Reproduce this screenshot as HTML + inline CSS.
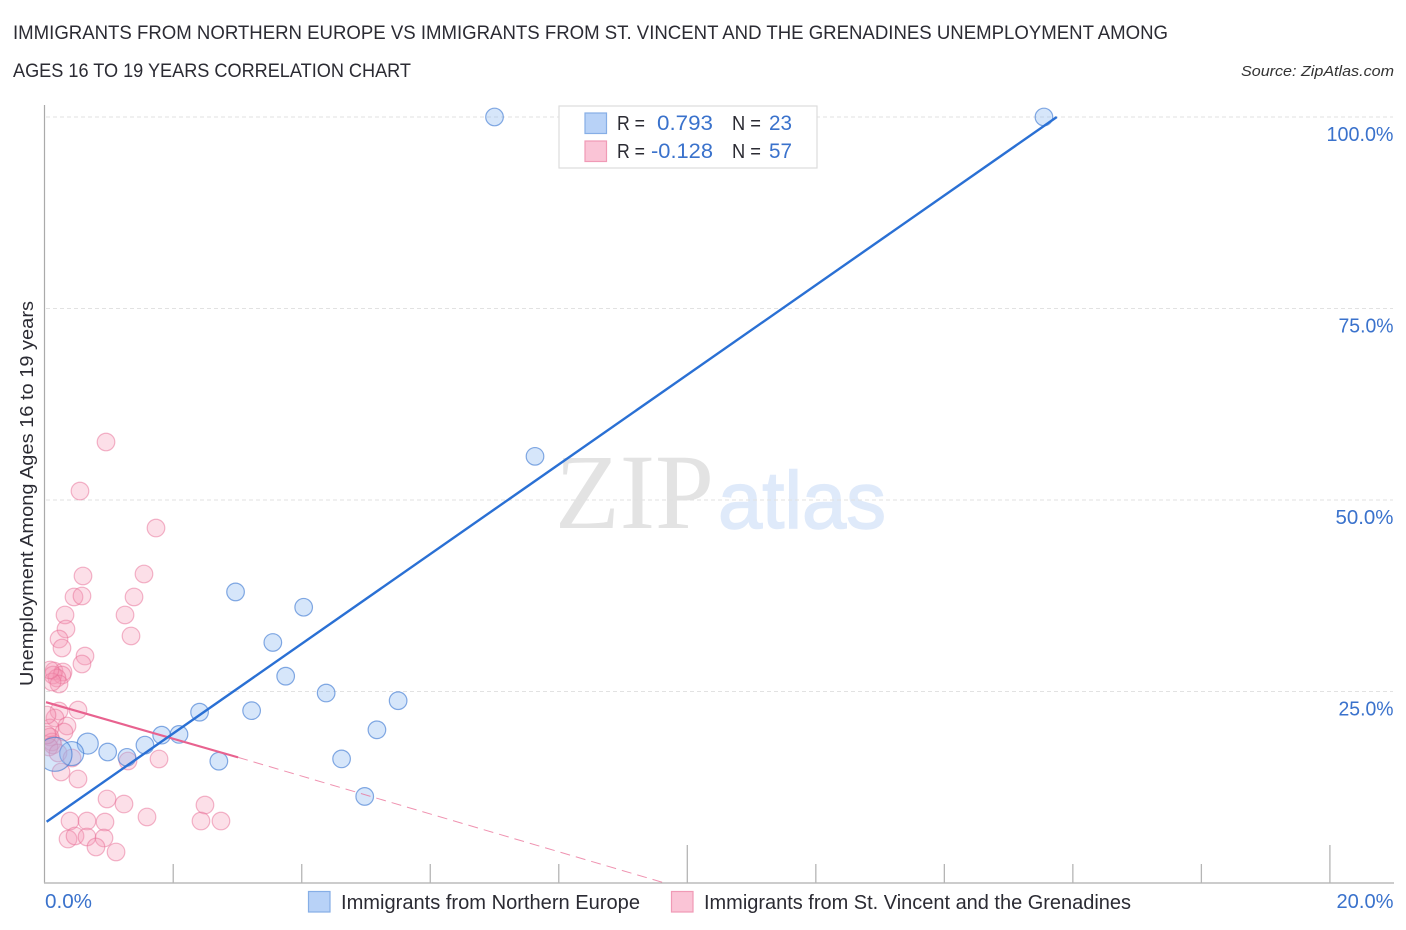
<!DOCTYPE html>
<html lang="en">
<head>
<meta charset="utf-8">
<title>Unemployment correlation chart</title>
<style>
html,body{margin:0;padding:0;background:#fff;}
svg{display:block;font-family:"Liberation Sans",sans-serif;}
</style>
</head>
<body>
<svg id="chart" xmlns="http://www.w3.org/2000/svg" width="1406" height="930" viewBox="0 0 1406 930">
  <defs><clipPath id="plot-clip"><rect x="45" y="100" width="1350" height="783"/></clipPath></defs>
  <rect width="1406" height="930" fill="#fff"/>
  <text x="13" y="39" font-size="19" fill="#2b2b33" textLength="1155" lengthAdjust="spacingAndGlyphs">IMMIGRANTS FROM NORTHERN EUROPE VS IMMIGRANTS FROM ST. VINCENT AND THE GRENADINES UNEMPLOYMENT AMONG</text>
  <text x="13" y="77" font-size="19" fill="#2b2b33" textLength="398" lengthAdjust="spacingAndGlyphs">AGES 16 TO 19 YEARS CORRELATION CHART</text>
  <text x="1394" y="76" font-size="15" font-style="italic" fill="#333" text-anchor="end" textLength="153" lengthAdjust="spacingAndGlyphs">Source: ZipAtlas.com</text>

  <g>
    <text x="555" y="528" font-family="'Liberation Serif',serif" font-size="107" fill="#e3e3e3" textLength="159" lengthAdjust="spacingAndGlyphs">ZIP</text>
    <text x="718" y="528" font-size="81" fill="#dfeafa" stroke="#dfeafa" stroke-width="1.5" textLength="168" lengthAdjust="spacingAndGlyphs">atlas</text>
  </g>

  <g id="grid"></g>
  <g id="axes">
    <line x1="44.5" y1="105" x2="44.5" y2="883" stroke="#aaa" stroke-width="1.2"/>
    <line x1="44" y1="883" x2="1394" y2="883" stroke="#bbb" stroke-width="1.5"/>
  </g>
  <g id="xticks"></g>
  <g id="ylabels"></g>
  <g id="xlabels"></g>

  <g id="pink-points" clip-path="url(#plot-clip)"></g>
  <g id="blue-points" clip-path="url(#plot-clip)"></g>
  <g id="trends"></g>

  <text transform="translate(33,686) rotate(-90)" font-size="18.5" fill="#2b2b33" textLength="385" lengthAdjust="spacingAndGlyphs">Unemployment Among Ages 16 to 19 years</text>

  <g>
    <rect x="559" y="106" width="258" height="62" fill="#fff" stroke="#ddd" stroke-width="1.2"/>
    <rect x="585" y="113" width="21.500" height="20.500" fill="#b8d2f7" stroke="#86aee6" stroke-width="1.200"/>
    <rect x="585" y="141" width="21.500" height="20.500" fill="#fac4d6" stroke="#f09ab6" stroke-width="1.200"/>
    <text x="617" y="130" font-size="20" fill="#2b2b33" textLength="28" lengthAdjust="spacingAndGlyphs">R =</text>
    <text x="713" y="130" font-size="21" fill="#3a72cc" text-anchor="end" textLength="56" lengthAdjust="spacingAndGlyphs">0.793</text>
    <text x="732" y="130" font-size="20" fill="#2b2b33" textLength="29" lengthAdjust="spacingAndGlyphs">N =</text>
    <text x="769" y="130" font-size="21" fill="#3a72cc" textLength="23" lengthAdjust="spacingAndGlyphs">23</text>
    <text x="617" y="158" font-size="20" fill="#2b2b33" textLength="28" lengthAdjust="spacingAndGlyphs">R =</text>
    <text x="713" y="158" font-size="21" fill="#3a72cc" text-anchor="end" textLength="62" lengthAdjust="spacingAndGlyphs">-0.128</text>
    <text x="732" y="158" font-size="20" fill="#2b2b33" textLength="29" lengthAdjust="spacingAndGlyphs">N =</text>
    <text x="769" y="158" font-size="21" fill="#3a72cc" textLength="23" lengthAdjust="spacingAndGlyphs">57</text>
  </g>

  <g>
    <rect x="308.500" y="891.500" width="21.500" height="20.500" fill="#b8d2f7" stroke="#86aee6" stroke-width="1.200"/>
    <text x="341" y="909" font-size="20" fill="#2b2b33" textLength="299" lengthAdjust="spacingAndGlyphs">Immigrants from Northern Europe</text>
    <rect x="671.500" y="891.500" width="21.500" height="20.500" fill="#fac4d6" stroke="#f09ab6" stroke-width="1.200"/>
    <text x="704" y="909" font-size="20" fill="#2b2b33" textLength="427" lengthAdjust="spacingAndGlyphs">Immigrants from St. Vincent and the Grenadines</text>
  </g>
</svg>
<script>
const yTickValues = [25, 50, 75, 100];
const yTickLabels = ['25.0%', '50.0%', '75.0%', '100.0%'];
const yLabelWidths = [55, 58, 55, 67];
const xTickValues = [2, 4, 6, 8, 10, 12, 14, 16, 18, 20];
const xMajorTicks = [10, 20];
const xEndLabels = ['0.0%', '20.0%'];

const blueX = [7.0, 15.55, 7.63, 2.97, 4.03, 3.55, 3.75, 4.38, 5.5, 2.41, 3.22, 5.17, 2.09, 1.82, 1.56, 0.98, 1.28, 0.67, 0.42, 0.16, 2.71, 4.62, 4.98];
const blueY = [100, 100, 55.7, 38, 36, 31.4, 27, 24.8, 23.8, 22.3, 22.5, 20, 19.4, 19.3, 18, 17.1, 16.4, 18.2, 16.9, 16.8, 15.9, 16.2, 11.3];
const blueSize = [8.8, 8.8, 8.8, 8.8, 8.8, 8.8, 8.8, 8.8, 8.8, 8.8, 8.8, 8.8, 8.8, 8.8, 8.8, 8.8, 8.8, 10.5, 12, 17, 8.8, 8.8, 8.8];

const pinkX = [0.954, 0.549, 1.732, 0.596, 1.545, 0.456, 0.58, 1.39, 0.316, 1.25, 0.331, 0.223, 0.269, 1.343, 0.627, 0.58, 0.145, 0.285, 0.129, 0.269, 0.191, 0.223, 0.114, 0.082, 0.518, 0.223, 0.16, 0.347, 0.3, 0.082, 0.082, 0.114, 0.129, 0.067, 0.207, 0.425, 0.254, 0.518, 1.296, 1.779, 0.97, 1.234, 1.592, 2.494, 2.432, 2.743, 0.394, 0.658, 0.938, 0.363, 0.472, 0.658, 0.923, 0.798, 1.11, 0.036, 0.036];
const pinkY = [57.57, 51.17, 46.34, 40.08, 40.34, 37.34, 37.47, 37.34, 34.99, 34.99, 33.16, 31.85, 30.68, 32.25, 29.63, 28.59, 27.68, 27.55, 27.15, 27.15, 26.76, 25.98, 26.24, 27.81, 22.58, 22.45, 21.54, 20.5, 19.71, 20.24, 19.06, 18.41, 18.02, 17.75, 16.97, 16.32, 14.49, 13.58, 15.93, 16.19, 10.97, 10.31, 8.62, 10.18, 8.09, 8.09, 8.09, 8.09, 7.96, 5.74, 6.14, 6.01, 5.87, 4.7, 4.05, 19.32, 21.93];

const blueTrendX = [0.03, 15.75];
const blueTrendY = [8, 100];
const pinkTrendX = [0.02, 3.01];
const pinkTrendY = [23.6, 16.4];
const pinkDashX = [3.01, 9.65];
const pinkDashY = [16.4, 0];

const NS = 'http://www.w3.org/2000/svg';
const xScale = function (v) { return 44.7 + v * 64.26; };
const yScale = function (v) { return 883 - v * 7.66; };
function mk(parentId, tag, attrs, text) {
  const el = document.createElementNS(NS, tag);
  Object.keys(attrs).forEach(function (k) { el.setAttribute(k, attrs[k]); });
  if (text !== undefined) el.textContent = text;
  document.getElementById(parentId).appendChild(el);
  return el;
}

yTickValues.forEach(function (v, i) {
  const line = mk('grid', 'line', { x1: 46, x2: 1393, y1: yScale(v), y2: yScale(v), stroke: '#e2e2e2', 'stroke-width': 1, 'stroke-dasharray': '4 3' });
  
  
  const label = mk('ylabels', 'text', { x: 1393.5, y: yScale(v) + 24, 'font-size': 20.5, fill: '#3a72cc', 'text-anchor': 'end', textLength: yLabelWidths[i], lengthAdjust: 'spacingAndGlyphs' }, yTickLabels[i]);
  
  
});

xTickValues.forEach(function (v) {
  const major = xMajorTicks.indexOf(v) >= 0;
  const tick = mk('xticks', 'line', { x1: xScale(v), x2: xScale(v), y1: major ? 845 : 864, y2: 883, stroke: '#b5b5b5', 'stroke-width': 1.3 });
  
  
});

const xLabelStart = mk('xlabels', 'text', { x: 45, y: 908, 'font-size': 20.5, fill: '#3a72cc', textLength: 47, lengthAdjust: 'spacingAndGlyphs' }, xEndLabels[0]);


const xLabelEnd = mk('xlabels', 'text', { x: 1393.5, y: 908, 'font-size': 20.5, fill: '#3a72cc', 'text-anchor': 'end', textLength: 57, lengthAdjust: 'spacingAndGlyphs' }, xEndLabels[1]);



pinkX.forEach(function (v, i) {
  const dot = mk('pink-points', 'circle', { cx: xScale(v), cy: yScale(pinkY[i]), r: 8.8, fill: 'rgba(246,150,180,0.3)', stroke: 'rgba(232,110,150,0.5)', 'stroke-width': 1.2 });
  
  
});

blueX.forEach(function (v, i) {
  const dot = mk('blue-points', 'circle', { cx: xScale(v), cy: yScale(blueY[i]), r: blueSize[i], fill: 'rgba(140,185,240,0.36)', stroke: 'rgba(60,120,210,0.62)', 'stroke-width': 1.2 });
  
  
});

const pinkDash = mk('trends', 'line', { x1: xScale(pinkDashX[0]), y1: yScale(pinkDashY[0]), x2: xScale(pinkDashX[1]), y2: yScale(pinkDashY[1]), stroke: '#ea6d96', 'stroke-width': 1, 'stroke-opacity': 0.75, 'stroke-dasharray': '10 6' });


const pinkTrend = mk('trends', 'line', { x1: xScale(pinkTrendX[0]), y1: yScale(pinkTrendY[0]), x2: xScale(pinkTrendX[1]), y2: yScale(pinkTrendY[1]), stroke: '#e8628f', 'stroke-width': 2.2 });


const blueTrend = mk('trends', 'line', { x1: xScale(blueTrendX[0]), y1: yScale(blueTrendY[0]), x2: xScale(blueTrendX[1]), y2: yScale(blueTrendY[1]), stroke: '#2a70d4', 'stroke-width': 2.4 });


</script>
</body>
</html>
